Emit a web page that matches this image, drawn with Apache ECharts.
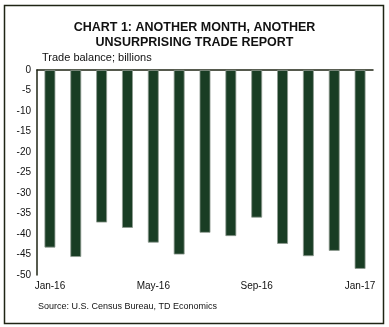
<!DOCTYPE html>
<html>
<head>
<meta charset="utf-8">
<style>
  html, body { margin: 0; padding: 0; background: #ffffff; }
  #chart { width: 389px; height: 327px; }
</style>
<script src="https://cdn.jsdelivr.net/npm/echarts@6/dist/echarts.min.js"></script>
</head>
<body>
<div id="chart"></div>
<script>
// Monthly US trade balance, billions of dollars
const months = ['Jan-16', 'Feb-16', 'Mar-16', 'Apr-16', 'May-16', 'Jun-16', 'Jul-16',
                'Aug-16', 'Sep-16', 'Oct-16', 'Nov-16', 'Dec-16', 'Jan-17'];
const tradeBalance = [-43.3, -45.6, -37.2, -38.5, -42.1, -45.0, -39.7,
                      -40.5, -36.0, -42.4, -45.4, -44.1, -48.5];

const FONT = 'Liberation Sans, Arial, sans-serif';
const chart = echarts.init(document.getElementById('chart'));

chart.setOption({
  animation: false,
  backgroundColor: '#ffffff',
  title: {
    text: 'CHART 1: ANOTHER MONTH, ANOTHER\nUNSURPRISING TRADE REPORT',
    left: 'center',
    top: 15,
    textStyle: { fontFamily: FONT, fontSize: 12.5, fontWeight: 'bold', color: '#111', lineHeight: 15 }
  },
  graphic: [
    {
      type: 'rect',
      shape: { x: 4.5, y: 5.5, width: 379, height: 318 },
      style: { fill: 'none', stroke: '#1f2414', lineWidth: 1.5 },
      z: 100
    },
    {
      type: 'text',
      left: 42, top: 52,
      style: { text: 'Trade balance; billions', fontFamily: FONT, fontSize: 11, fill: '#111' }
    },
    {
      type: 'text',
      left: 38, top: 302,
      style: { text: 'Source: U.S. Census Bureau, TD Economics', fontFamily: FONT, fontSize: 9, fill: '#111' }
    }
  ],
  grid: { left: 37, top: 70, right: 16, bottom: 52, containLabel: false },
  xAxis: [
    {
      type: 'category',
      data: months,
      position: 'bottom',
      axisLine: { show: false, onZero: false },
      axisTick: { show: false },
      axisLabel: { interval: 3, fontFamily: FONT, fontSize: 10, color: '#111', margin: 6 }
    },
    {
      type: 'category',
      data: months,
      position: 'top',
      axisLine: { show: true, onZero: false, lineStyle: { color: '#1f2414', width: 1.5 } },
      axisTick: { show: false },
      axisLabel: { show: false }
    }
  ],
  yAxis: {
    type: 'value',
    min: -50,
    max: 0,
    interval: 5,
    axisLine: { show: true, onZero: false, lineStyle: { color: '#1f2414', width: 1.5 } },
    axisTick: { show: false },
    splitLine: { show: false },
    axisLabel: { fontFamily: FONT, fontSize: 10, color: '#111', margin: 6 }
  },
  series: [{
    type: 'bar',
    data: tradeBalance,
    barWidth: '42%',
    itemStyle: { color: '#193d24', borderColor: '#8e9a91', borderWidth: 0.8 }
  }]
});
</script>
</body>
</html>
